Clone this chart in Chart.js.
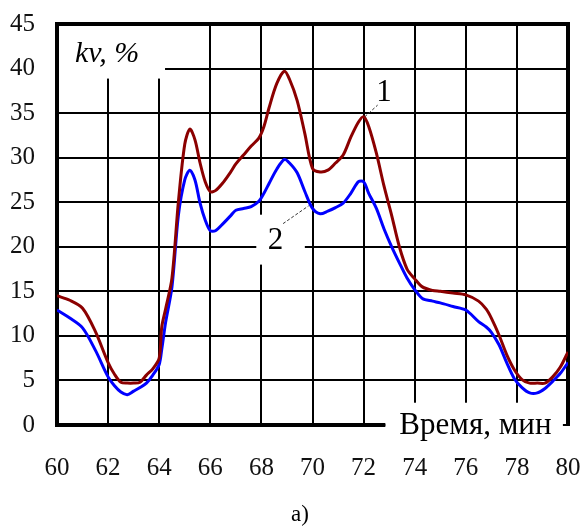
<!DOCTYPE html>
<html>
<head>
<meta charset="utf-8">
<script src="https://cdn.jsdelivr.net/npm/chart.js@4.4.0/dist/chart.umd.min.js"></script>
<style>
  body { margin: 0; background: #fff; }
  #wrap { width: 584px; height: 527px; position: relative; }
</style>
</head>
<body>
<div id="wrap"><canvas id="myChart"></canvas></div>
<script>
(function () {
  'use strict';

  // время, мин
  var times = [60, 60.5, 61, 61.5, 62, 62.25, 62.5, 62.75, 63, 63.25, 63.5, 63.75, 64, 64.1, 64.25, 64.5, 64.75,
    65, 65.2, 65.4, 65.6, 65.8, 66, 66.2, 66.5, 66.8, 67, 67.3, 67.6, 67.9, 68.1, 68.3, 68.6, 68.9, 69.1, 69.4,
    69.7, 70, 70.3, 70.6, 70.9, 71.2, 71.5, 71.8, 72, 72.2, 72.5, 72.8, 73.1, 73.4, 73.7, 74, 74.3, 74.7, 75,
    75.5, 76, 76.5, 76.8, 77, 77.3, 77.6, 77.9, 78.2, 78.5, 78.8, 79.1, 79.4, 79.7, 80];
  // кривая 1
  var curve1 = [14.5, 14.0, 13.1, 10.5, 7.0, 5.7, 4.8, 4.7, 4.7, 4.8, 5.6, 6.3, 7.5, 11.0, 13.0, 16.5, 25,
    31.5, 33.2, 32.0, 29.4, 27.3, 26.2, 26.3, 27.2, 28.4, 29.3, 30.3, 31.3, 32.2, 33.5, 35.6, 38.3, 39.7, 38.8, 36.4,
    32.7, 28.8, 28.4, 28.6, 29.4, 30.3, 32.3, 34.0, 34.6, 33.5, 30.5, 26.8, 23.5, 20.0, 17.5, 16.4, 15.5, 15.1, 15.0,
    14.8, 14.6, 13.9, 13.0, 12.0, 10.1, 7.9, 6.2, 5.1, 4.7, 4.7, 4.7, 5.4, 6.5, 8.2];
  // кривая 2
  var curve2 = [12.9, 12.0, 10.9, 8.4, 5.4, 4.4, 3.7, 3.4, 3.8, 4.2, 4.7, 5.6, 6.8, 8.5, 11.5, 15.5, 23.5,
    27.5, 28.6, 27.5, 24.9, 23.0, 21.8, 21.8, 22.6, 23.5, 24.1, 24.3, 24.5, 25.1, 26.0, 27.1, 28.7, 29.8, 29.4, 28.3,
    26.2, 24.3, 23.7, 24.0, 24.4, 24.9, 26.0, 27.3, 27.3, 26.0, 24.3, 22.0, 20.0, 18.2, 16.5, 15.2, 14.2, 13.9, 13.7,
    13.3, 12.9, 11.6, 11.0, 10.4, 9.0, 7.0, 5.2, 4.2, 3.6, 3.6, 4.1, 4.9, 5.8, 7.0];

  var xMin = 60, xMax = 80, xStep = 2;
  var yMin = 0, yMax = 45, yStep = 5;

  function points(vals) {
    return times.map(function (t, i) { return { x: t, y: vals[i] }; });
  }

  var serif = '"Liberation Serif", "Times New Roman", serif';

  // white boxes, frame, labels
  var decor = {
    id: 'decor',
    beforeDatasetsDraw: function (chart) {
      var ctx = chart.ctx, a = chart.chartArea;
      var xs = chart.scales.x, ys = chart.scales.y;
      var X = function (v) { return xs.getPixelForValue(v); };
      var Y = function (v) { return ys.getPixelForValue(v); };
      ctx.save();
      ctx.fillStyle = '#fff';
      // kv, % box
      ctx.fillRect(a.left + 2, a.top + 2, X(64.15) - a.left, Y(39.1) - a.top);
      // "2" box
      ctx.fillRect(X(67.8), Y(23.6), X(69.7) - X(67.8), Y(18.0) - Y(23.6));
      // axis title box
      ctx.fillRect(X(72.85), Y(2.5), X(79.8) - X(72.85), 45);
      // frame
      ctx.strokeStyle = '#000';
      ctx.lineWidth = 4;
      ctx.beginPath();
      ctx.moveTo(X(72.85), a.bottom);
      ctx.lineTo(a.left, a.bottom);
      ctx.lineTo(a.left, a.top);
      ctx.lineTo(a.right, a.top);
      ctx.lineTo(a.right, a.bottom + 1);
      ctx.stroke();
      ctx.restore();
    },
    afterDraw: function (chart) {
      var ctx = chart.ctx, a = chart.chartArea;
      var xs = chart.scales.x, ys = chart.scales.y;
      var X = function (v) { return xs.getPixelForValue(v); };
      var Y = function (v) { return ys.getPixelForValue(v); };
      ctx.save();
      // leaders
      ctx.strokeStyle = '#333';
      ctx.lineWidth = 1;
      ctx.setLineDash([3, 2]);
      ctx.beginPath();
      ctx.moveTo(X(72.05), Y(34.6));
      ctx.lineTo(X(72.55), Y(35.9));
      ctx.moveTo(X(68.85), Y(22.6));
      ctx.lineTo(X(69.85), Y(24.6));
      ctx.stroke();
      ctx.setLineDash([]);

      ctx.fillStyle = '#000';
      ctx.textBaseline = 'alphabetic';
      ctx.textAlign = 'center';
      ctx.font = '31px ' + serif;
      ctx.fillText('1', X(72.8), Y(36.4));
      ctx.fillText('2', X(68.55), Y(19.7));

      ctx.textAlign = 'left';
      ctx.font = 'italic 30px ' + serif;
      ctx.fillText('kv, %', X(60.7), Y(40.7));

      ctx.font = '31px ' + serif;
      ctx.fillText('Время, мин', X(73.4), a.bottom + 9);

      ctx.textAlign = 'center';
      ctx.font = '23px ' + serif;
      ctx.fillText('а)', 300, 521);
      ctx.restore();
    }
  };

  function noPad(scale) {
    scale.paddingLeft = 0;
    scale.paddingRight = 0;
    scale.paddingTop = 0;
    scale.paddingBottom = 0;
  }

  var ctx = document.getElementById('myChart').getContext('2d');
  var myChart = new Chart(ctx, {
    type: 'line',
    data: {
      datasets: [{
        label: '1',
        data: points(curve1),
        borderColor: '#8b0000',
        borderWidth: 3,
        pointRadius: 0,
        tension: 0.3,
        fill: false
      }, {
        label: '2',
        data: points(curve2),
        borderColor: '#0000ff',
        borderWidth: 3,
        pointRadius: 0,
        tension: 0.3,
        fill: false
      }]
    },
    options: {
      responsive: true,
      maintainAspectRatio: false,
      animation: false,
      layout: { padding: { top: 24, right: 16, left: 0, bottom: 0 } },
      plugins: {
        legend: { display: false },
        tooltip: { enabled: false }
      },
      scales: {
        x: {
          type: 'linear',
          min: xMin,
          max: xMax,
          afterFit: function (scale) { scale.height = 102; noPad(scale); },
          grid: { color: '#000', lineWidth: 2, drawTicks: false },
          border: { display: false },
          ticks: {
            stepSize: xStep,
            autoSkip: false,
            maxRotation: 0,
            padding: 28,
            color: '#111',
            font: { family: serif, size: 25 }
          }
        },
        y: {
          min: yMin,
          max: yMax,
          afterFit: function (scale) { scale.width = 57; noPad(scale); },
          grid: { color: '#000', lineWidth: 2, drawTicks: false },
          border: { display: false },
          ticks: {
            stepSize: yStep,
            padding: 22,
            color: '#111',
            font: { family: serif, size: 25 }
          }
        }
      }
    },
    plugins: [decor]
  });
})();
</script>
</body>
</html>
